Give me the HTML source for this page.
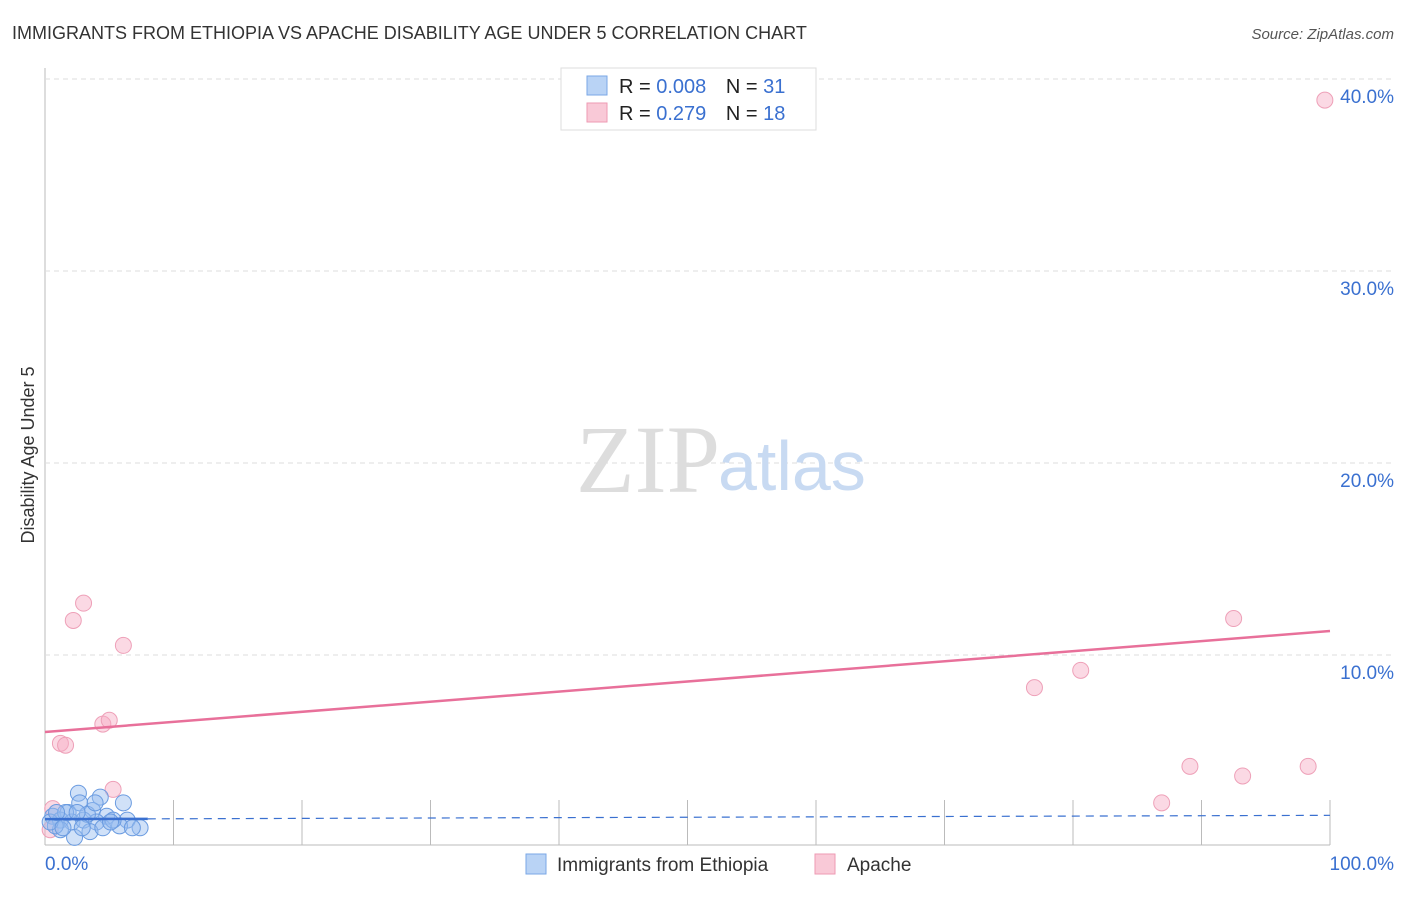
<!DOCTYPE html>
<html><head><meta charset="utf-8"><style>
body{margin:0;background:#fff;font-family:"Liberation Sans",sans-serif}
</style></head><body>
<svg width="1406" height="892" xmlns="http://www.w3.org/2000/svg">
<text x="12" y="39" font-size="18" fill="#333">IMMIGRANTS FROM ETHIOPIA VS APACHE DISABILITY AGE UNDER 5 CORRELATION CHART</text>
<text x="1394" y="39" font-size="15" fill="#555" font-style="italic" text-anchor="end">Source: ZipAtlas.com</text>
<text x="0" y="0" transform="translate(34,455) rotate(-90)" font-size="18" fill="#333" text-anchor="middle">Disability Age Under 5</text>
<g id="grid"></g>
<text x="720" y="492" font-size="96" fill="#ddd" font-family="Liberation Serif" text-anchor="end">ZIP</text>
<text x="718" y="490" font-size="70" fill="#c8daf2">atlas</text>
<g id="marks"></g>
<g>
<rect x="561" y="68" width="255" height="62" fill="#fff" stroke="#ddd"/>
<rect x="587" y="76" width="20" height="19" fill="#b9d3f5" stroke="#7aa7e6"/>
<rect x="587" y="103" width="20" height="19" fill="#f9c9d7" stroke="#ee9ab3"/>
<text x="619" y="93" font-size="20" fill="#222">R = <tspan fill="#3a70d0">0.008</tspan>  <tspan dx="14">N = </tspan><tspan fill="#3a70d0">31</tspan></text>
<text x="619" y="120" font-size="20" fill="#222">R =  <tspan fill="#3a70d0">0.279</tspan>  <tspan dx="14">N = </tspan><tspan fill="#3a70d0">18</tspan></text>
</g>
<g>
<rect x="526" y="854" width="20" height="20" fill="#b9d3f5" stroke="#7aa7e6"/>
<text x="557" y="871" font-size="19" fill="#333">Immigrants from Ethiopia</text>
<rect x="815" y="854" width="20" height="20" fill="#f9c9d7" stroke="#ee9ab3"/>
<text x="847" y="871" font-size="19" fill="#333">Apache</text>
</g>
</svg>
<script>
const yTicks=[10,20,30,40];
const yTickLabels=["10.0%","20.0%","30.0%","40.0%"];
const xTickLabels=["0.0%","100.0%"];
const blueX=[2.6,4.3,6.1,1.8,2.7,3.7,4.8,0.6,1.2,2.1,3.0,4.0,6.4,5.8,7.4,6.8,2.3,3.5,1.2,0.8,4.5,1.6,3.3,5.3,0.4,0.9,2.5,1.4,2.9,3.9,5.1];
const blueY=[2.8,2.6,2.3,1.8,2.3,1.9,1.6,1.6,1.4,1.3,1.4,1.3,1.4,1.1,1.0,1.0,0.5,0.8,0.9,1.1,1.0,1.8,1.7,1.4,1.3,1.8,1.8,1.0,1.0,2.3,1.3];
const pinkX=[99.6,3.0,2.2,6.1,92.5,77,80.6,4.5,5.0,1.2,1.6,5.3,89.1,93.2,98.3,86.9,0.6,0.4];
const pinkY=[38.9,12.7,11.8,10.5,11.9,8.3,9.2,6.4,6.6,5.4,5.3,3.0,4.2,3.7,4.2,2.3,2.0,0.9];
const blueTrend=[1.45,1.65];
const pinkTrend=[5.99,11.25];
const NS="http://www.w3.org/2000/svg";
const X=v=>45+v*12.85, Y=v=>847-v*19.2;
function mk(t,a,p){const e=document.createElementNS(NS,t);for(const k in a)e.setAttribute(k,a[k]);p.appendChild(e);return e;}
const g=document.getElementById('grid'), m=document.getElementById('marks');
mk('line',{x1:45,y1:68,x2:45,y2:845,stroke:'#bbb'},g);
mk('line',{x1:45,y1:845,x2:1330,y2:845,stroke:'#bbb'},g);
for(let i=1;i<=10;i++){const l=mk('line',{x1:X(i*10),y1:800,x2:X(i*10),y2:845,stroke:'#bbb'},g);

}
yTicks.forEach((t,i)=>{const l=mk('line',{x1:45,y1:Y(t),x2:1392,y2:Y(t),stroke:'#ddd','stroke-dasharray':'5,4'},g);


const tx=mk('text',{x:1394,y:Y(t)+24,'font-size':19,fill:'#3a70d0','text-anchor':'end'},g);tx.textContent=yTickLabels[i];

});
const x0=mk('text',{x:45,y:870,'font-size':19,fill:'#3a70d0'},g);x0.textContent=xTickLabels[0];


const x1=mk('text',{x:1394,y:870,'font-size':19,fill:'#3a70d0','text-anchor':'end'},g);x1.textContent=xTickLabels[1];


pinkX.forEach((v,i)=>{const c=mk('circle',{cx:X(v),cy:Y(pinkY[i]),r:8,fill:'rgba(246,170,195,0.45)',stroke:'#eea0b8','stroke-width':1},m);

});
blueX.forEach((v,i)=>{const c=mk('circle',{cx:X(v),cy:Y(blueY[i]),r:8,fill:'rgba(150,188,240,0.45)',stroke:'#6a9be0','stroke-width':1},m);

});
const bs=blueTrend[0]+(blueTrend[1]-blueTrend[0])*0.08;
const b1=mk('line',{x1:X(0),y1:Y(blueTrend[0]),x2:X(8),y2:Y(bs),stroke:'#3a70d0','stroke-width':2.5},m);


const b2=mk('line',{x1:X(8),y1:Y(bs),x2:X(100),y2:Y(blueTrend[1]),stroke:'#3a70d0','stroke-width':1.2,'stroke-dasharray':'8,6'},m);


const p=mk('line',{x1:X(0),y1:Y(pinkTrend[0]),x2:X(100),y2:Y(pinkTrend[1]),stroke:'#e8709a','stroke-width':2.5},m);


</script>
</body></html>
